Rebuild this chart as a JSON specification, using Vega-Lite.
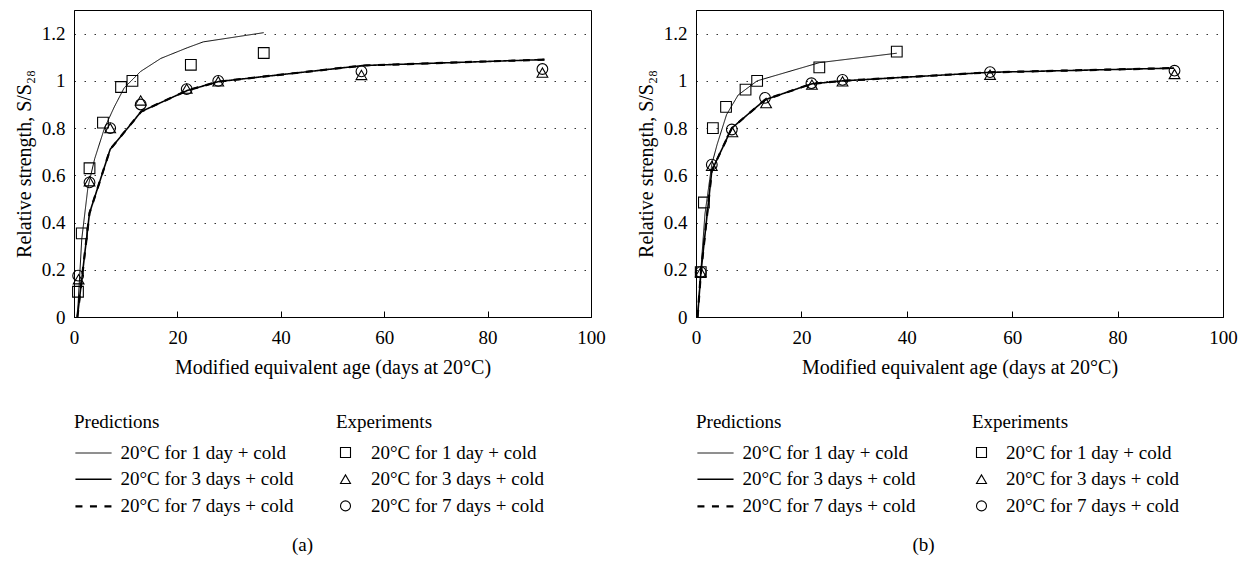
{
  "$schema": "https://vega.github.io/schema/vega-lite/v6.json",
  "background": "white",
  "padding": {"left": 13, "top": 9, "right": 0, "bottom": 0},
  "spacing": 29,
  "config": {
    "font": "Liberation Serif",
    "view": {"stroke": "black", "strokeWidth": 1},
    "axis": {
      "labelFont": "Liberation Serif", "titleFont": "Liberation Serif",
      "labelFontSize": 19, "titleFontSize": 20, "titleFontWeight": "normal",
      "labelColor": "black", "titleColor": "black", "domainColor": "black", "tickColor": "black"
    },
    "axisX": {"tickSize": -6, "labelPadding": 17, "titlePadding": 10, "grid": false, "labelFlush": false},
    "axisY": {"ticks": false, "labelPadding": 9, "titlePadding": 7, "grid": true, "gridDash": [1.5, 8.5], "gridColor": "#333333", "gridWidth": 1},
    "legend": {
      "orient": "none", "padding": 0,
      "titleFont": "Liberation Serif", "titleFontSize": 19, "titleFontWeight": "normal", "titleColor": "black",
      "labelFont": "Liberation Serif", "labelFontSize": 19, "labelColor": "black",
      "rowPadding": 6.7, "titlePadding": 11, "labelLimit": 0, "titleLimit": 0
    },
    "title": {"font": "Liberation Serif", "fontSize": 19, "fontWeight": "normal", "color": "black"}
  },
  "datasets": {
    "a_pred": [
      {"pred": "20°C for 1 day + cold", "age": 0.65, "s": 0},
      {"pred": "20°C for 1 day + cold", "age": 1.5, "s": 0.33},
      {"pred": "20°C for 1 day + cold", "age": 2.7, "s": 0.55},
      {"pred": "20°C for 1 day + cold", "age": 4, "s": 0.67},
      {"pred": "20°C for 1 day + cold", "age": 5.9, "s": 0.8},
      {"pred": "20°C for 1 day + cold", "age": 7.8, "s": 0.89},
      {"pred": "20°C for 1 day + cold", "age": 9.7, "s": 0.97},
      {"pred": "20°C for 1 day + cold", "age": 12.9, "s": 1.04},
      {"pred": "20°C for 1 day + cold", "age": 16.8, "s": 1.095},
      {"pred": "20°C for 1 day + cold", "age": 21.9, "s": 1.14},
      {"pred": "20°C for 1 day + cold", "age": 25, "s": 1.165},
      {"pred": "20°C for 1 day + cold", "age": 36.7, "s": 1.204},
      {"pred": "20°C for 3 days + cold", "age": 0.65, "s": 0},
      {"pred": "20°C for 3 days + cold", "age": 3, "s": 0.44},
      {"pred": "20°C for 3 days + cold", "age": 7, "s": 0.71},
      {"pred": "20°C for 3 days + cold", "age": 13, "s": 0.87},
      {"pred": "20°C for 3 days + cold", "age": 22, "s": 0.96},
      {"pred": "20°C for 3 days + cold", "age": 28, "s": 0.997},
      {"pred": "20°C for 3 days + cold", "age": 56, "s": 1.065},
      {"pred": "20°C for 3 days + cold", "age": 91, "s": 1.09},
      {"pred": "20°C for 7 days + cold", "age": 0.65, "s": 0},
      {"pred": "20°C for 7 days + cold", "age": 3, "s": 0.44},
      {"pred": "20°C for 7 days + cold", "age": 7, "s": 0.71},
      {"pred": "20°C for 7 days + cold", "age": 13, "s": 0.87},
      {"pred": "20°C for 7 days + cold", "age": 22, "s": 0.96},
      {"pred": "20°C for 7 days + cold", "age": 28, "s": 0.997},
      {"pred": "20°C for 7 days + cold", "age": 56, "s": 1.065},
      {"pred": "20°C for 7 days + cold", "age": 91, "s": 1.09}
    ],
    "a_exp": [
      {"exp": "1 day", "age": 0.77, "s": 0.107},
      {"exp": "1 day", "age": 1.5, "s": 0.354},
      {"exp": "1 day", "age": 3, "s": 0.63},
      {"exp": "1 day", "age": 5.6, "s": 0.823},
      {"exp": "1 day", "age": 9.1, "s": 0.974},
      {"exp": "1 day", "age": 11.3, "s": 1.0},
      {"exp": "1 day", "age": 22.6, "s": 1.068},
      {"exp": "1 day", "age": 36.7, "s": 1.118},
      {"exp": "3 days", "age": 0.9, "s": 0.16},
      {"exp": "3 days", "age": 3, "s": 0.575},
      {"exp": "3 days", "age": 7, "s": 0.8},
      {"exp": "3 days", "age": 12.9, "s": 0.917},
      {"exp": "3 days", "age": 21.8, "s": 0.967},
      {"exp": "3 days", "age": 27.9, "s": 0.998},
      {"exp": "3 days", "age": 55.6, "s": 1.025},
      {"exp": "3 days", "age": 90.6, "s": 1.035},
      {"exp": "7 days", "age": 0.8, "s": 0.175},
      {"exp": "7 days", "age": 3, "s": 0.57},
      {"exp": "7 days", "age": 7, "s": 0.8},
      {"exp": "7 days", "age": 12.9, "s": 0.9},
      {"exp": "7 days", "age": 21.8, "s": 0.965},
      {"exp": "7 days", "age": 27.9, "s": 1.0},
      {"exp": "7 days", "age": 55.6, "s": 1.04},
      {"exp": "7 days", "age": 90.6, "s": 1.05}
    ],
    "b_pred": [
      {"pred": "20°C for 1 day + cold", "age": 0.3, "s": 0},
      {"pred": "20°C for 1 day + cold", "age": 0.9, "s": 0.19},
      {"pred": "20°C for 1 day + cold", "age": 1.7, "s": 0.436},
      {"pred": "20°C for 1 day + cold", "age": 3, "s": 0.647},
      {"pred": "20°C for 1 day + cold", "age": 4, "s": 0.73},
      {"pred": "20°C for 1 day + cold", "age": 5.8, "s": 0.857},
      {"pred": "20°C for 1 day + cold", "age": 8, "s": 0.94},
      {"pred": "20°C for 1 day + cold", "age": 11.6, "s": 1.0},
      {"pred": "20°C for 1 day + cold", "age": 23.4, "s": 1.077},
      {"pred": "20°C for 1 day + cold", "age": 38.1, "s": 1.117},
      {"pred": "20°C for 3 days + cold", "age": 0.3, "s": 0},
      {"pred": "20°C for 3 days + cold", "age": 0.9, "s": 0.18},
      {"pred": "20°C for 3 days + cold", "age": 3, "s": 0.62},
      {"pred": "20°C for 3 days + cold", "age": 6.8, "s": 0.8},
      {"pred": "20°C for 3 days + cold", "age": 13.1, "s": 0.92},
      {"pred": "20°C for 3 days + cold", "age": 21.9, "s": 0.987},
      {"pred": "20°C for 3 days + cold", "age": 27.8, "s": 1.0},
      {"pred": "20°C for 3 days + cold", "age": 55.7, "s": 1.036},
      {"pred": "20°C for 3 days + cold", "age": 90.7, "s": 1.054},
      {"pred": "20°C for 7 days + cold", "age": 0.3, "s": 0},
      {"pred": "20°C for 7 days + cold", "age": 0.9, "s": 0.18},
      {"pred": "20°C for 7 days + cold", "age": 3, "s": 0.62},
      {"pred": "20°C for 7 days + cold", "age": 6.8, "s": 0.8},
      {"pred": "20°C for 7 days + cold", "age": 13.1, "s": 0.92},
      {"pred": "20°C for 7 days + cold", "age": 21.9, "s": 0.987},
      {"pred": "20°C for 7 days + cold", "age": 27.8, "s": 1.0},
      {"pred": "20°C for 7 days + cold", "age": 55.7, "s": 1.036},
      {"pred": "20°C for 7 days + cold", "age": 90.7, "s": 1.054}
    ],
    "b_exp": [
      {"exp": "1 day", "age": 0.9, "s": 0.19},
      {"exp": "1 day", "age": 1.5, "s": 0.485},
      {"exp": "1 day", "age": 3.2, "s": 0.8},
      {"exp": "1 day", "age": 5.7, "s": 0.89},
      {"exp": "1 day", "age": 9.4, "s": 0.963},
      {"exp": "1 day", "age": 11.6, "s": 1.0},
      {"exp": "1 day", "age": 23.4, "s": 1.057},
      {"exp": "1 day", "age": 38.1, "s": 1.124},
      {"exp": "3 days", "age": 0.9, "s": 0.19},
      {"exp": "3 days", "age": 3, "s": 0.64},
      {"exp": "3 days", "age": 6.9, "s": 0.783},
      {"exp": "3 days", "age": 13.3, "s": 0.906},
      {"exp": "3 days", "age": 22, "s": 0.984},
      {"exp": "3 days", "age": 27.8, "s": 0.998},
      {"exp": "3 days", "age": 55.8, "s": 1.026},
      {"exp": "3 days", "age": 90.8, "s": 1.029},
      {"exp": "7 days", "age": 0.9, "s": 0.19},
      {"exp": "7 days", "age": 3, "s": 0.645},
      {"exp": "7 days", "age": 6.8, "s": 0.794},
      {"exp": "7 days", "age": 13.1, "s": 0.928},
      {"exp": "7 days", "age": 21.9, "s": 0.99},
      {"exp": "7 days", "age": 27.8, "s": 1.004},
      {"exp": "7 days", "age": 55.8, "s": 1.037},
      {"exp": "7 days", "age": 90.8, "s": 1.043}
    ]
  },
  "resolve": {
    "scale": {"x": "independent", "y": "independent", "strokeWidth": "independent", "strokeDash": "independent", "shape": "independent"},
    "legend": {"strokeWidth": "independent", "strokeDash": "independent", "shape": "independent"}
  },
  "hconcat": [
    {
      "width": 517,
      "height": 307,
      "title": {"text": "(a)", "orient": "bottom", "offset": 19, "dx": -30},
      "layer": [
        {
          "data": {"name": "a_pred"},
          "mark": {"type": "line", "color": "black"},
          "encoding": {
            "x": {"field": "age", "type": "quantitative", "scale": {"domain": [0, 100], "nice": false}, "axis": {"title": "Modified equivalent age (days at 20°C)", "values": [0, 20, 40, 60, 80, 100]}},
            "y": {"field": "s", "type": "quantitative", "scale": {"domain": [0, 1.3], "nice": false}, "axis": {"title": "Relative strength, S/S₂₈", "values": [0, 0.2, 0.4, 0.6, 0.8, 1, 1.2], "format": "~g"}},
            "strokeWidth": {"field": "pred", "type": "nominal", "scale": {"domain": ["20°C for 1 day + cold", "20°C for 3 days + cold", "20°C for 7 days + cold"], "range": [1, 2.2, 1.2]}, "legend": {"title": "Predictions", "legendX": 0, "legendY": 403, "symbolType": "M-1.9,0H1.9", "symbolSize": 361, "symbolOffset": 8.5, "labelOffset": 16, "rowPadding": 5.7}},
            "strokeDash": {"field": "pred", "type": "nominal", "scale": {"domain": ["20°C for 1 day + cold", "20°C for 3 days + cold", "20°C for 7 days + cold"], "range": [[1, 0], [1, 0], [7, 7.5]]}, "legend": {"title": "Predictions", "legendX": 0, "legendY": 403, "symbolType": "M-1.9,0H1.9", "symbolSize": 361, "symbolOffset": 8.5, "labelOffset": 16, "rowPadding": 5.7}}
          }
        },
        {
          "data": {"name": "a_exp"},
          "mark": {"type": "point", "filled": false, "color": "black", "size": 115, "strokeWidth": 1.1, "opacity": 1},
          "encoding": {
            "x": {"field": "age", "type": "quantitative"},
            "y": {"field": "s", "type": "quantitative"},
            "shape": {"field": "exp", "type": "nominal", "scale": {"domain": ["1 day", "3 days", "7 days"], "range": ["square", "triangle-up", "circle"]}, "legend": {"title": "Experiments", "legendX": 262, "legendY": 403, "symbolSize": 100, "symbolStrokeWidth": 1.1, "symbolStrokeColor": "black", "symbolOffset": 0, "labelOffset": 16, "rowPadding": 6.7, "labelExpr": "'20°C for ' + datum.label + ' + cold'"}}
          }
        }
      ]
    },
    {
      "width": 527,
      "height": 307,
      "title": {"text": "(b)", "orient": "bottom", "offset": 19, "dx": -36},
      "layer": [
        {
          "data": {"name": "b_pred"},
          "mark": {"type": "line", "color": "black"},
          "encoding": {
            "x": {"field": "age", "type": "quantitative", "scale": {"domain": [0, 100], "nice": false}, "axis": {"title": "Modified equivalent age (days at 20°C)", "values": [0, 20, 40, 60, 80, 100]}},
            "y": {"field": "s", "type": "quantitative", "scale": {"domain": [0, 1.3], "nice": false}, "axis": {"title": "Relative strength, S/S₂₈", "values": [0, 0.2, 0.4, 0.6, 0.8, 1, 1.2], "format": "~g"}},
            "strokeWidth": {"field": "pred", "type": "nominal", "scale": {"domain": ["20°C for 1 day + cold", "20°C for 3 days + cold", "20°C for 7 days + cold"], "range": [1, 2.2, 1.2]}, "legend": {"title": "Predictions", "legendX": 0, "legendY": 403, "symbolType": "M-1.9,0H1.9", "symbolSize": 361, "symbolOffset": 8.5, "labelOffset": 16, "rowPadding": 5.7}},
            "strokeDash": {"field": "pred", "type": "nominal", "scale": {"domain": ["20°C for 1 day + cold", "20°C for 3 days + cold", "20°C for 7 days + cold"], "range": [[1, 0], [1, 0], [7, 7.5]]}, "legend": {"title": "Predictions", "legendX": 0, "legendY": 403, "symbolType": "M-1.9,0H1.9", "symbolSize": 361, "symbolOffset": 8.5, "labelOffset": 16, "rowPadding": 5.7}}
          }
        },
        {
          "data": {"name": "b_exp"},
          "mark": {"type": "point", "filled": false, "color": "black", "size": 115, "strokeWidth": 1.1, "opacity": 1},
          "encoding": {
            "x": {"field": "age", "type": "quantitative"},
            "y": {"field": "s", "type": "quantitative"},
            "shape": {"field": "exp", "type": "nominal", "scale": {"domain": ["1 day", "3 days", "7 days"], "range": ["square", "triangle-up", "circle"]}, "legend": {"title": "Experiments", "legendX": 276, "legendY": 403, "symbolSize": 100, "symbolStrokeWidth": 1.1, "symbolStrokeColor": "black", "symbolOffset": 0, "labelOffset": 15, "rowPadding": 6.7, "labelExpr": "'20°C for ' + datum.label + ' + cold'"}}
          }
        }
      ]
    }
  ]
}
